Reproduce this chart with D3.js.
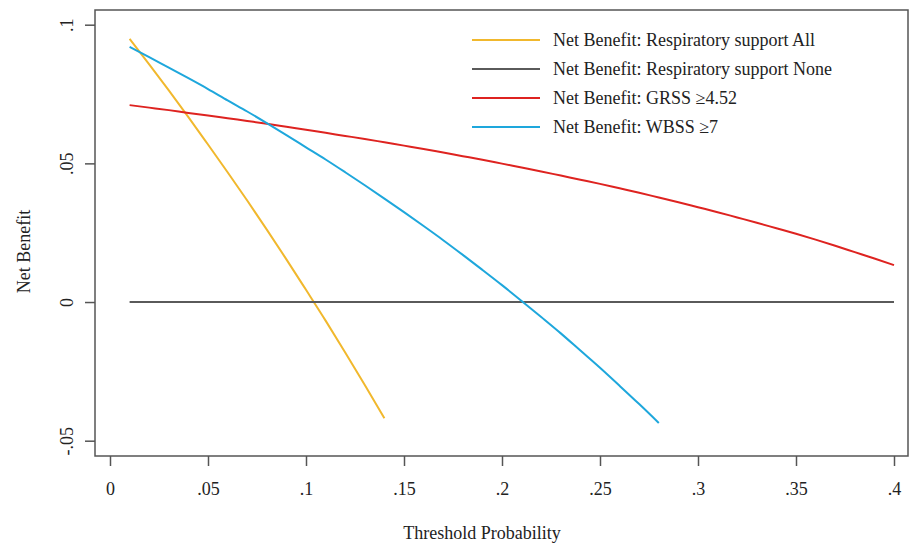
<!DOCTYPE html>
<html lang="en">
<head>
    <meta charset="UTF-8">
    <title>Decision Curve</title>
    <script src="https://d3js.org/d3.v7.min.js"></script>
    <style>
        body { margin: 0; background: #fff; }
        svg text { font-family: "Liberation Serif", "Times New Roman", serif; fill: #222; }
        .line { fill: none; stroke-width: 2; }
    </style>
</head>
<body>
    <svg id="chart" width="909" height="546"></svg>
    <script>
        // Threshold probabilities and net benefit values
        const thresholds = d3.range(1, 41).map(d => d / 100);

        const treatAll = [0.0949, 0.0857, 0.0763, 0.0667, 0.0568, 0.0468, 0.0366, 0.0261, 0.0154, 0.0044,
                          -0.0067, -0.0182, -0.0299, -0.0419];

        const treatNone = [0, 0, 0, 0, 0, 0, 0, 0, 0, 0, 0, 0, 0, 0, 0, 0, 0, 0, 0, 0,
                           0, 0, 0, 0, 0, 0, 0, 0, 0, 0, 0, 0, 0, 0, 0, 0, 0, 0, 0, 0];

        const grss = [0.0710, 0.0701, 0.0692, 0.0682, 0.0673, 0.0663, 0.0653, 0.0643, 0.0632, 0.0621,
                      0.0610, 0.0599, 0.0588, 0.0576, 0.0564, 0.0552, 0.0539, 0.0526, 0.0513, 0.0499,
                      0.0485, 0.0471, 0.0456, 0.0441, 0.0426, 0.0410, 0.0394, 0.0377, 0.0360, 0.0342,
                      0.0324, 0.0305, 0.0286, 0.0266, 0.0246, 0.0225, 0.0203, 0.0180, 0.0157, 0.0133];

        const wbss = [0.0920, 0.0883, 0.0845, 0.0807, 0.0768, 0.0727, 0.0687, 0.0645, 0.0602, 0.0558,
                      0.0514, 0.0468, 0.0421, 0.0373, 0.0324, 0.0274, 0.0223, 0.0170, 0.0116, 0.0061,
                      0.0004, -0.0054, -0.0113, -0.0175, -0.0237, -0.0302, -0.0368, -0.0436];

        const xTicks = [0, 0.05, 0.1, 0.15, 0.2, 0.25, 0.3, 0.35, 0.4];
        const xTickLabels = ["0", ".05", ".1", ".15", ".2", ".25", ".3", ".35", ".4"];
        const yTicks = [-0.05, 0, 0.05, 0.1];
        const yTickLabels = ["-.05", "0", ".05", ".1"];

        const series = [
            {name: "Net Benefit: Respiratory support All", values: treatAll, color: "#f1b82d"},
            {name: "Net Benefit: Respiratory support None", values: treatNone, color: "#5a5a5a"},
            {name: "Net Benefit: GRSS \u22654.52", values: grss, color: "#de2320"},
            {name: "Net Benefit: WBSS \u22657", values: wbss, color: "#1ea7dc"}
        ];

        // plot frame
        const frame = {left: 95, right: 908, top: 10, bottom: 456};

        const svg = d3.select("#chart");

        const x = d3.scaleLinear().domain([0, 0.4]).range([110, 894]);
        const y = d3.scaleLinear().domain([-0.05, 0.1]).range([440.7, 24.7]);

        // frame box
        svg.append("rect")
            .attr("x", frame.left)
            .attr("y", frame.top)
            .attr("width", frame.right - frame.left)
            .attr("height", frame.bottom - frame.top)
            .attr("fill", "none")
            .attr("stroke", "#555")
            .attr("stroke-width", 1.5);

        // x axis
        const xAxis = svg.append("g")
            .attr("transform", `translate(0,${frame.bottom})`)
            .call(d3.axisBottom(x)
                .tickValues(xTicks)
                .tickFormat((d, i) => xTickLabels[i])
                .tickSize(10)
                .tickSizeOuter(0)
                .tickPadding(16));
        xAxis.select(".domain").remove();
        xAxis.selectAll("line").attr("stroke", "#555").attr("stroke-width", 1.5);
        xAxis.selectAll("text").attr("font-size", 18).attr("fill", "#222")
            .style("font-family", "'Liberation Serif', serif");

        // y axis
        const yAxis = svg.append("g")
            .attr("transform", `translate(${frame.left},0)`)
            .call(d3.axisLeft(y)
                .tickValues(yTicks)
                .tickFormat((d, i) => yTickLabels[i])
                .tickSize(10)
                .tickSizeOuter(0));
        yAxis.select(".domain").remove();
        yAxis.selectAll("line").attr("stroke", "#555").attr("stroke-width", 1.5);
        yAxis.selectAll("text")
            .attr("x", null)
            .attr("dy", null)
            .attr("font-size", 18)
            .attr("fill", "#222")
            .attr("text-anchor", "middle")
            .style("font-family", "'Liberation Serif', serif")
            .attr("transform", "translate(-22,0) rotate(-90)");

        // lines
        const line = d3.line()
            .x((d, i) => x(thresholds[i]))
            .y(d => y(d))
            .curve(d3.curveMonotoneX);

        svg.append("g")
            .selectAll("path")
            .data(series)
            .join("path")
            .attr("class", "line")
            .attr("stroke", d => d.color)
            .attr("d", d => line(d.values));

        // axis titles
        svg.append("text")
            .attr("transform", "translate(30,251.5) rotate(-90)")
            .attr("text-anchor", "middle")
            .attr("font-size", 18)
            .text("Net Benefit");

        svg.append("text")
            .attr("x", 482)
            .attr("y", 539)
            .attr("text-anchor", "middle")
            .attr("font-size", 18)
            .text("Threshold Probability");

        // legend
        const legend = svg.append("g")
            .selectAll("g")
            .data(series)
            .join("g")
            .attr("transform", (d, i) => `translate(472,${40 + i * 29})`);

        legend.append("line")
            .attr("x1", 0)
            .attr("x2", 68)
            .attr("stroke", d => d.color)
            .attr("stroke-width", 2);

        legend.append("text")
            .attr("x", 81)
            .attr("dy", "0.33em")
            .attr("font-size", 18)
            .text(d => d.name);
    </script>
</body>
</html>
